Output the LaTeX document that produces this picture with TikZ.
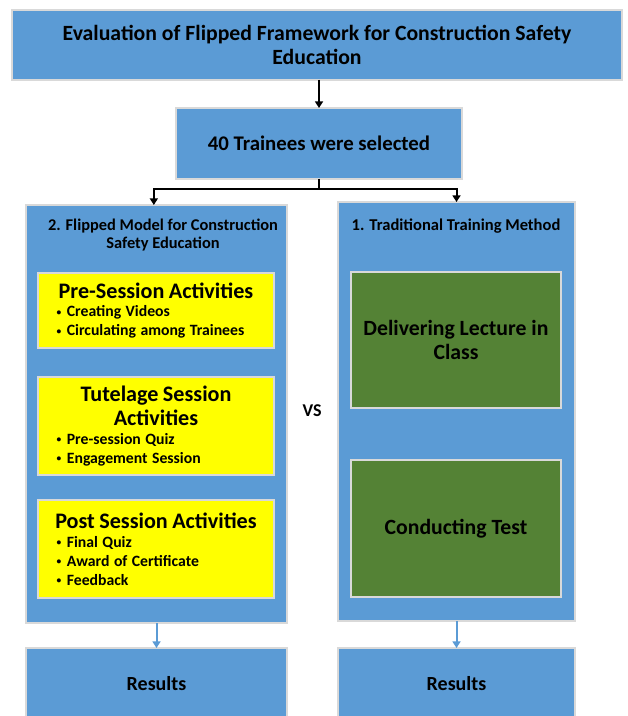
\documentclass[tikz,border=0pt]{standalone}
\usepackage{fontspec}
\setmainfont{Carlito}
\usetikzlibrary{arrows.meta}
\definecolor{boxblue}{HTML}{5B9BD5}
\definecolor{boxgreen}{HTML}{548235}
\definecolor{edgegray}{HTML}{D9D9D9}
\definecolor{boxyellow}{HTML}{FFFF00}
\tikzset{
  bluebox/.style={rectangle,draw=edgegray,line width=1.6pt,fill=boxblue,inner sep=0pt,outer sep=0pt},
  yellowbox/.style={rectangle,draw=edgegray,line width=1.6pt,fill=boxyellow,minimum width=177pt,minimum height=73.5pt,text width=158pt,inner sep=0pt,outer sep=0pt,align=left},
  greenbox/.style={rectangle,draw=edgegray,line width=1.6pt,fill=boxgreen,minimum width=157.5pt,inner sep=0pt,outer sep=0pt,align=center},
  blackarrow/.style={line width=1.5pt,-{Triangle[length=5pt,width=6pt]}},
  bluearrow/.style={boxblue,line width=1.5pt,-{Triangle[length=5pt,width=6pt]}},
}
\newcommand{\boxhead}[1]{{\centering\fontsize{16.6}{18}\selectfont #1\par}}
\newcommand{\itemline}[1]{{\fontsize{11.8}{14.2}\selectfont\hspace*{4.5pt}\raisebox{1.2pt}{\scalebox{0.6}{\textbullet}}\hspace{0.35em}#1\par}}
\begin{document}
\begin{tikzpicture}[x=0.75pt,y=-0.75pt,font=\bfseries]
	\clip (0,0) rectangle (627,716);
	\fill[white] (0,0) rectangle (627,716);
	% top of the chart
	\node (Title) [bluebox,minimum width=457.5pt,minimum height=52.5pt,align=center,font=\bfseries\fontsize{16.3}{18}\selectfont] at (317,45)
		{Evaluation of Flipped Framework for Construction Safety\\Education};
	\node (Trainees) [bluebox,minimum width=214.5pt,minimum height=53.25pt,font=\bfseries\fontsize{15.6}{18}\selectfont] at (319,143.5)
		{40 Trainees were selected};
	% the two methods
	\node (Flipped) [bluebox,minimum width=195.75pt,minimum height=313.5pt] at (156.5,414) {};
	\node (Traditional) [bluebox,minimum width=177.75pt,minimum height=314.25pt] at (456.5,411.5) {};
	\node (FlippedHead) [align=center,font=\bfseries\fontsize{12.3}{13.5}\selectfont] at (163,235)
		{2. Flipped Model for Construction\\Safety Education};
	\node (TraditionalHead) [font=\bfseries\fontsize{12.4}{13.5}\selectfont] at (456,226)
		{1. Traditional Training Method};
	\node (PreSession) [yellowbox,minimum height=56.25pt] at (156,310.5)
		{\boxhead{Pre-Session Activities}\itemline{Creating Videos}\itemline{Circulating among Trainees}};
	\node (Tutelage) [yellowbox] at (156,426)
		{\boxhead{Tutelage Session\\Activities}\itemline{Pre-session Quiz}\itemline{Engagement Session}};
	\node (PostSession) [yellowbox] at (156,549)
		{\boxhead{Post Session Activities}\itemline{Final Quiz}\itemline{Award of Certificate}\itemline{Feedback}};
	\node (Lecture) [greenbox,minimum height=102pt,font=\bfseries\fontsize{16.3}{18}\selectfont] at (456,340)
		{Delivering Lecture in\\Class};
	\node (Test) [greenbox,minimum height=102.75pt,font=\bfseries\fontsize{16.3}{18}\selectfont] at (456,528.5)
		{Conducting Test};
	\node (Versus) [font=\bfseries\fontsize{13.5}{15}\selectfont] at (312,411) {VS};
	% results
	\node (ResultsL) [bluebox,minimum width=195.75pt,minimum height=54pt,font=\bfseries\fontsize{15}{17}\selectfont] at (156.5,684) {Results};
	\node (ResultsR) [bluebox,minimum width=177.75pt,minimum height=54pt,font=\bfseries\fontsize{15}{17}\selectfont] at (456.5,684) {Results};
	% connectors
	\draw[blackarrow] (Title.south -| Trainees.north) -- (Trainees.north);
	\draw[blackarrow] (Trainees.south) -- ++(0,10) -| ([xshift=-2pt]Flipped.north);
	\draw[blackarrow] (Trainees.south) -- ++(0,10) -| (Traditional.north);
	\draw[bluearrow] (Flipped.south) -- (ResultsL.north);
	\draw[bluearrow] (Traditional.south) -- (ResultsR.north);
\end{tikzpicture}
\end{document}
